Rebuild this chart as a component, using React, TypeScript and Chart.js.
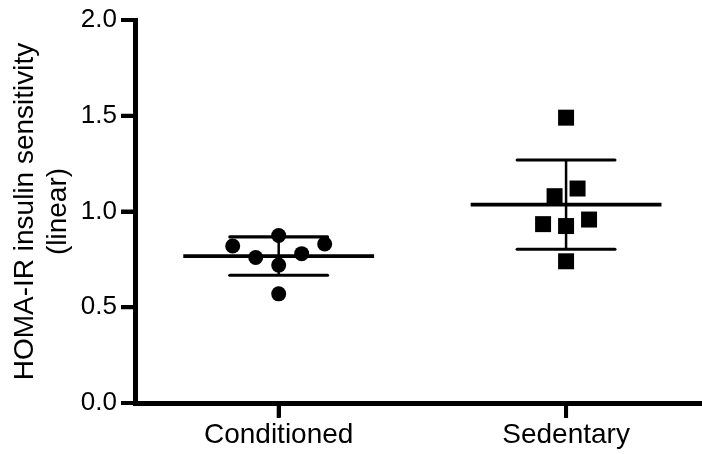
import React, { useEffect, useRef } from "react";
import { Chart, registerables } from "chart.js";

Chart.register(...registerables);

const categories = ["Conditioned", "Sedentary"];
const yTitleLines = ["HOMA-IR insulin sensitivity", "(linear)"];
const yTickValues = [0, 0.5, 1.0, 1.5, 2.0];

// Individual values and their horizontal jitter within each group
const conditionedValues = [0.875, 0.82, 0.83, 0.76, 0.78, 0.72, 0.57];
const conditionedJitter = [0, -0.16, 0.16, -0.08, 0.08, 0, 0];
const sedentaryValues = [1.49, 1.12, 1.08, 0.934, 0.924, 0.958, 0.74];
const sedentaryJitter = [0, 0.04, -0.04, -0.08, 0, 0.08, 0];

// Group summaries (mean ± SD)
const groupMeans = [0.767, 1.036];
const groupSDs = [0.1, 0.233];

const MEAN_HALF = 0.332;
const SD_HALF = 0.17;
const TICK_LEN = 14;
const FONT = "'Liberation Sans', Arial, Helvetica, sans-serif";

// Draws the thick outward tick marks through the chart's own scales
const thickTicks = {
  id: "thickTicks",
  afterDraw(chart: any) {
    const { ctx, chartArea, scales } = chart;
    ctx.save();
    ctx.strokeStyle = "#000";
    ctx.lineWidth = 4;
    ctx.lineCap = "butt";
    yTickValues.forEach((v) => {
      const y = scales.y.getPixelForValue(v);
      ctx.beginPath();
      ctx.moveTo(chartArea.left - TICK_LEN, y);
      ctx.lineTo(chartArea.left, y);
      ctx.stroke();
    });
    categories.forEach((_, i) => {
      const x = scales.x.getPixelForValue(i + 1);
      ctx.beginPath();
      ctx.moveTo(x, chartArea.bottom);
      ctx.lineTo(x, chartArea.bottom + TICK_LEN + 1);
      ctx.stroke();
    });
    ctx.restore();
  },
};

export default function App() {
  const ref = useRef<HTMLCanvasElement | null>(null);

  useEffect(() => {
    if (!ref.current) return;

    const pts = (vals: number[], jit: number[], cat: number) =>
      vals.map((v, i) => ({ x: cat + jit[i], y: v }));

    const lineDs = (data: { x: number; y: number }[], width: number, cap: CanvasLineCap) => ({
      type: "line" as const,
      data,
      showLine: true,
      borderColor: "#000",
      borderWidth: width,
      borderCapStyle: cap,
      pointRadius: 0,
      pointHoverRadius: 0,
      fill: false,
      tension: 0,
    });

    const summary: any[] = [];
    groupMeans.forEach((m, i) => {
      const c = i + 1;
      const sd = groupSDs[i];
      summary.push(lineDs([{ x: c - MEAN_HALF, y: m }, { x: c + MEAN_HALF, y: m }], 3.6, "butt"));
      summary.push(lineDs([{ x: c - SD_HALF, y: m + sd }, { x: c + SD_HALF, y: m + sd }], 3.2, "round"));
      summary.push(lineDs([{ x: c - SD_HALF, y: m - sd }, { x: c + SD_HALF, y: m - sd }], 3.2, "round"));
      summary.push(lineDs([{ x: c, y: m - sd }, { x: c, y: m + sd }], 2.5, "butt"));
    });

    const gridOpts = () => ({
      drawOnChartArea: false,
      drawTicks: true,
      tickLength: TICK_LEN,
      tickWidth: 4,
      lineWidth: 4,
      tickColor: "#000",
      color: "#000",
    });

    const chart = new Chart(ref.current, {
      type: "scatter",
      data: {
        datasets: [
          {
            label: categories[0],
            data: pts(conditionedValues, conditionedJitter, 1),
            pointStyle: "circle",
            pointRadius: 7.5,
            pointHoverRadius: 7.5,
            backgroundColor: "#000",
            borderWidth: 0,
          },
          {
            label: categories[1],
            data: pts(sedentaryValues, sedentaryJitter, 2),
            pointStyle: "rect",
            pointRadius: 11.3,
            pointHoverRadius: 11.3,
            backgroundColor: "#000",
            borderWidth: 0,
          },
          ...summary,
        ],
      },
      plugins: [thickTicks],
      options: {
        animation: false,
        responsive: false,
        devicePixelRatio: 1,
        layout: { autoPadding: false, padding: { top: 20, right: 0, left: 0, bottom: 0 } },
        plugins: {
          legend: { display: false },
          tooltip: { enabled: false },
        },
        scales: {
          x: {
            type: "linear",
            min: 0.5,
            max: 2.473,
            afterBuildTicks: (scale: any) => {
              scale.ticks = categories.map((_, i) => ({ value: i + 1 }));
            },
            afterFit: (scale: any) => {
              scale.height = 51;
            },
            grid: gridOpts(),
            border: { display: true, width: 5, color: "#000" },
            ticks: {
              padding: 1,
              color: "#000",
              maxRotation: 0,
              autoSkip: false,
              font: { family: FONT, size: 28 },
              callback: (v: any) => {
                const idx = Math.round(Number(v)) - 1;
                return categories[idx] ?? "";
              },
            },
          },
          y: {
            type: "linear",
            min: 0,
            max: 2,
            afterBuildTicks: (scale: any) => {
              scale.ticks = yTickValues.map((v) => ({ value: v }));
            },
            afterFit: (scale: any) => {
              scale.width = 135;
            },
            grid: gridOpts(),
            border: { display: true, width: 5, color: "#000" },
            title: {
              display: true,
              text: yTitleLines,
              color: "#000",
              padding: { top: 8, bottom: 0 },
              font: { family: FONT, size: 28 },
            },
            ticks: {
              padding: 4,
              color: "#000",
              font: { family: FONT, size: 26 },
              callback: (v: any) => Number(v).toFixed(1),
            },
          },
        },
      },
    });

    return () => chart.destroy();
  }, []);

  return (
    <div style={{ position: "absolute", left: 0, top: 0, width: 702, height: 454, background: "#fff" }}>
      <canvas ref={ref} width={702} height={454} style={{ display: "block" }} />
    </div>
  );
}
